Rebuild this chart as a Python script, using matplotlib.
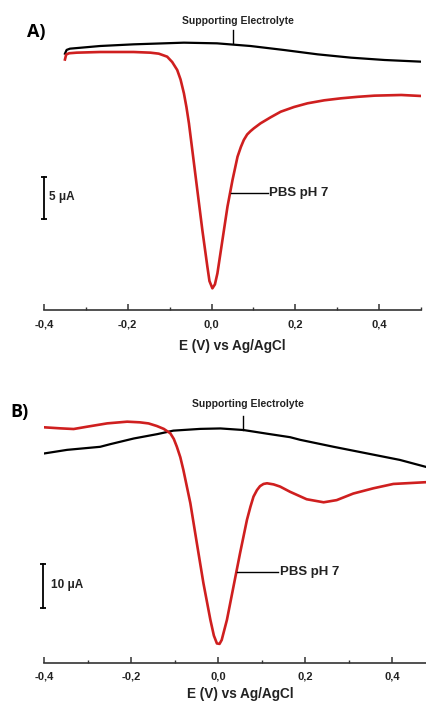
import matplotlib
matplotlib.use("Agg")
import matplotlib.pyplot as plt
from matplotlib.ticker import MultipleLocator, FuncFormatter

plt.rcParams["font.family"] = ["Liberation Sans", "DejaVu Sans"]
plt.rcParams["font.weight"] = "bold"

# Panel A (current in µA, relative offset)
a_red_x = [-0.350, -0.347, -0.340, -0.322, -0.266, -0.186, -0.146, -0.126, -0.106,
           -0.094, -0.082, -0.074, -0.066, -0.060, -0.054, -0.046, -0.034, -0.022,
           -0.010, -0.005, 0.002, 0.008, 0.014, 0.026, 0.038, 0.050, 0.062, 0.070,
           0.077, 0.085, 0.093, 0.101, 0.117, 0.141, 0.165, 0.197, 0.229, 0.269,
           0.309, 0.349, 0.389, 0.453, 0.500]
a_red_y = [-0.9, -0.3, -0.15, -0.08, 0.0, 0.0, -0.08, -0.2, -0.56,
           -1.2, -2.16, -3.3, -4.96, -6.6, -8.56, -11.76, -16.57, -21.37,
           -25.77, -27.5, -28.37, -27.9, -26.57, -22.57, -18.57, -15.37, -12.57, -11.4,
           -10.56, -9.9, -9.5, -9.16, -8.56, -7.84, -7.17, -6.6, -6.16, -5.8,
           -5.56, -5.38, -5.24, -5.16, -5.28]
a_blk_x = [-0.350, -0.346, -0.338, -0.266, -0.186, -0.066, 0.013, 0.093, 0.173,
           0.253, 0.333, 0.413, 0.500]
a_blk_y = [-0.2, 0.25, 0.4, 0.72, 0.92, 1.12, 1.04, 0.72, 0.24,
           -0.28, -0.68, -0.96, -1.16]

# Panel B
b_red_x = [-0.398, -0.362, -0.332, -0.301, -0.255, -0.209, -0.180, -0.160, -0.141,
           -0.125, -0.110, -0.102, -0.095, -0.087, -0.080, -0.064, -0.049, -0.034,
           -0.018, -0.010, -0.003, 0.003, 0.008, 0.020, 0.035, 0.050, 0.066, 0.074,
           0.081, 0.089, 0.096, 0.104, 0.112, 0.127, 0.142, 0.165, 0.203, 0.242,
           0.272, 0.310, 0.356, 0.402, 0.477]
b_red_y = [-0.15, -0.38, -0.53, 0.0, 0.76, 1.15, 1.0, 0.75, 0.16,
           -0.5, -1.51, -2.8, -4.58, -7.0, -9.9, -17.5, -26.7, -35.8,
           -44.2, -47.8, -49.6, -49.7, -48.8, -44.2, -36.6, -29.0, -21.3, -18.3,
           -16.0, -14.5, -13.6, -13.1, -12.95, -13.2, -13.7, -14.9, -16.6, -17.3,
           -16.8, -15.3, -14.1, -13.1, -12.7]
b_blk_x = [-0.398, -0.347, -0.271, -0.248, -0.194, -0.140, -0.103, -0.041, 0.005,
           0.058, 0.112, 0.165, 0.188, 0.265, 0.341, 0.417, 0.477]
b_blk_y = [-6.1, -5.3, -4.6, -4.0, -2.7, -1.7, -0.9, -0.5, -0.4,
           -0.76, -1.6, -2.4, -3.0, -4.6, -6.1, -7.6, -9.2]

xticks = [-0.4, -0.2, 0.0, 0.2, 0.4]
red = "#cf1f1f"

W, H = 426, 706
fig = plt.figure(figsize=(W / 100, H / 100), dpi=100)


def comma(v, pos):
    return f"{v:.1f}".replace(".", ",")


def setup(ax, xlim, ylim, pad, labelpad):
    ax.set_xlim(*xlim)
    ax.set_ylim(*ylim)
    for s in ["left", "right", "top"]:
        ax.spines[s].set_visible(False)
    ax.spines["bottom"].set_linewidth(1.2)
    ax.spines["bottom"].set_color("#333333")
    ax.set_yticks([])
    ax.set_xticks(xticks)
    ax.xaxis.set_minor_locator(MultipleLocator(0.1))
    ax.xaxis.set_major_formatter(FuncFormatter(comma))
    ax.tick_params(axis="x", which="major", direction="in", length=4, width=1.1,
                   labelsize=8, pad=pad, colors="#333333", labelcolor="#222222")
    ax.tick_params(axis="x", which="minor", direction="in", length=2.5, width=1.0,
                   colors="#333333")
    ax.set_xlabel("E (V) vs Ag/AgCl", fontsize=9.8, fontweight="bold",
                  labelpad=labelpad, color="#222222")


# ---- Panel A ----
axA = fig.add_axes([44 / W, 1 - 310 / H, 377 / W, (310 - 15) / H])
setup(axA, (-0.4, 0.5), (-(310 - 52) / 8.33, (52 - 15) / 8.33), 7, 7)
axA.plot(a_blk_x, a_blk_y, color="black", lw=1.6)
axA.plot(a_red_x, a_red_y, color=red, lw=1.9)
axA.text(0.062, 3.72, "Supporting Electrolyte", fontsize=7.5, ha="center",
         va="center", color="#222222")
axA.plot([0.05, 0.05], [2.64, 1.08], color="black", lw=1)
axA.text(0.137, -16.9, "PBS pH 7", fontsize=9.5, ha="left", va="center",
         color="#222222")
axA.plot([0.046, 0.134], [-16.9, -16.9], color="black", lw=1)
axA.plot([-0.4, -0.4], [-15.0, -20.0], color="black", lw=1.3, marker="_",
         ms=5, mew=1.3, clip_on=False)
axA.text(-0.388, -17.4, "5 μA", fontsize=8.5, ha="left", va="center",
         color="#222222")

# ---- Panel B ----
axB = fig.add_axes([44 / W, 1 - 663 / H, 392 / W, (663 - 380) / H])
setup(axB, (-0.4, 0.5), (-(663 - 426.7) / 4.37, (426.7 - 380) / 4.37), 6, 4)
axB.plot(b_blk_x, b_blk_y, color="black", lw=1.6)
axB.plot(b_red_x, b_red_y, color=red, lw=1.9)
axB.text(0.069, 5.2, "Supporting Electrolyte", fontsize=7.5, ha="center",
         va="center", color="#222222")
axB.plot([0.057, 0.057], [2.45, -0.75], color="black", lw=1)
axB.text(0.142, -33.3, "PBS pH 7", fontsize=9.5, ha="left", va="center",
         color="#222222")
axB.plot([0.044, 0.138], [-33.3, -33.3], color="black", lw=1)
axB.plot([-0.402, -0.402], [-31.5, -41.5], color="black", lw=1.3, marker="_",
         ms=5, mew=1.3, clip_on=False)
axB.text(-0.385, -36.2, "10 μA", fontsize=8.5, ha="left", va="center",
         color="#222222")

fig.text(27 / W, 1 - 32 / H, "A)", fontsize=13, fontweight="bold", ha="left",
         va="center", family=["Open Sans", "DejaVu Sans"])
fig.text(10 / W, 1 - 412 / H, "B)", fontsize=13, fontweight="bold", ha="left",
         va="center", family=["Open Sans", "DejaVu Sans"])

fig.savefig("out.png", dpi=100)
